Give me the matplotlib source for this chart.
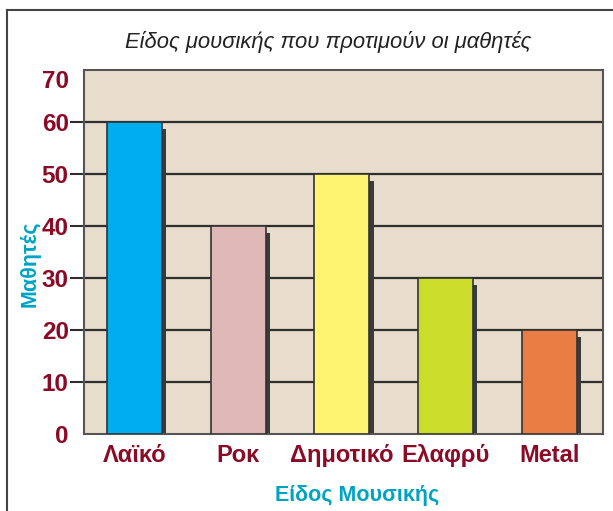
import matplotlib.pyplot as plt
from matplotlib.lines import Line2D

# Data
genres = ["Λαϊκό", "Ροκ", "Δημοτικό", "Ελαφρύ", "Metal"]
students = [60, 40, 50, 30, 20]
colors = ["#00AEEF", "#E0B7B7", "#FFF46F", "#CCDC2B", "#E97D44"]
yticks = [0, 10, 20, 30, 40, 50, 60, 70]

plt.rcParams['font.family'] = ['Liberation Sans', 'DejaVu Sans']

fig = plt.figure(figsize=(6.13, 5.11), dpi=100)
ax = fig.add_axes([84/613, 1 - 434/511, 519/613, 364/511])
ax.set_facecolor("#E8DDCD")

x = list(range(len(genres)))
width = 0.53

# shadows behind the bars
ax.bar([i + 0.04 for i in x], [v - 1.3 for v in students], width=width,
       color="#3A3A3A", zorder=2)
ax.bar(x, students, width=width, color=colors, edgecolor="#333333",
       linewidth=1.2, zorder=3)

ax.set_xlim(-0.49, 4.52)
ax.set_ylim(0, 70)
ax.set_yticks(yticks)
ax.set_xticks(x)
ax.set_xticklabels(genres)

# horizontal grid lines
for v in yticks[1:-1]:
    ax.axhline(v, color="#2E2E2E", linewidth=1.6, zorder=1)

for s in ax.spines.values():
    s.set_color("#555555")
    s.set_linewidth(1.5)

ax.tick_params(axis="y", length=10, width=1.5, color="#2E2E2E", pad=1,
               labelsize=17.5, labelcolor="#8B0A26")
ax.tick_params(axis="x", length=0, pad=7, labelsize=17, labelcolor="#8B0A26")
for lab in ax.get_yticklabels() + ax.get_xticklabels():
    lab.set_fontweight("bold")
# no tick at 0 and 70
ax.yaxis.get_major_ticks()[0].tick1line.set_visible(False)
ax.yaxis.get_major_ticks()[-1].tick1line.set_visible(False)
# top label sits a little lower in the original
ax.get_yticklabels()[-1].set_va("top")

fig.text(357/613, 1 - 495/511, "Είδος Μουσικής", fontsize=15.5,
         fontweight="bold", color="#00A3C4", ha="center", va="center")
fig.text(30/613, 1 - 264/511, "Μαθητές", rotation=90, fontsize=15.5,
         fontweight="bold", color="#00A3C4", ha="center", va="center")

fig.text(328/613, 1 - 42/511, "Είδος μουσικής που προτιμούν οι μαθητές",
         fontsize=15.8, style="italic", color="#222222", ha="center", va="center")

# outer frame (left and top edge)
fig.add_artist(Line2D([7/613, 7/613], [0, 1 - 10/511], color="#444444",
                      linewidth=1.5, transform=fig.transFigure))
fig.add_artist(Line2D([7/613, 1], [1 - 10/511, 1 - 10/511], color="#444444",
                      linewidth=1.5, transform=fig.transFigure))

fig.savefig("out.png", dpi=100)
